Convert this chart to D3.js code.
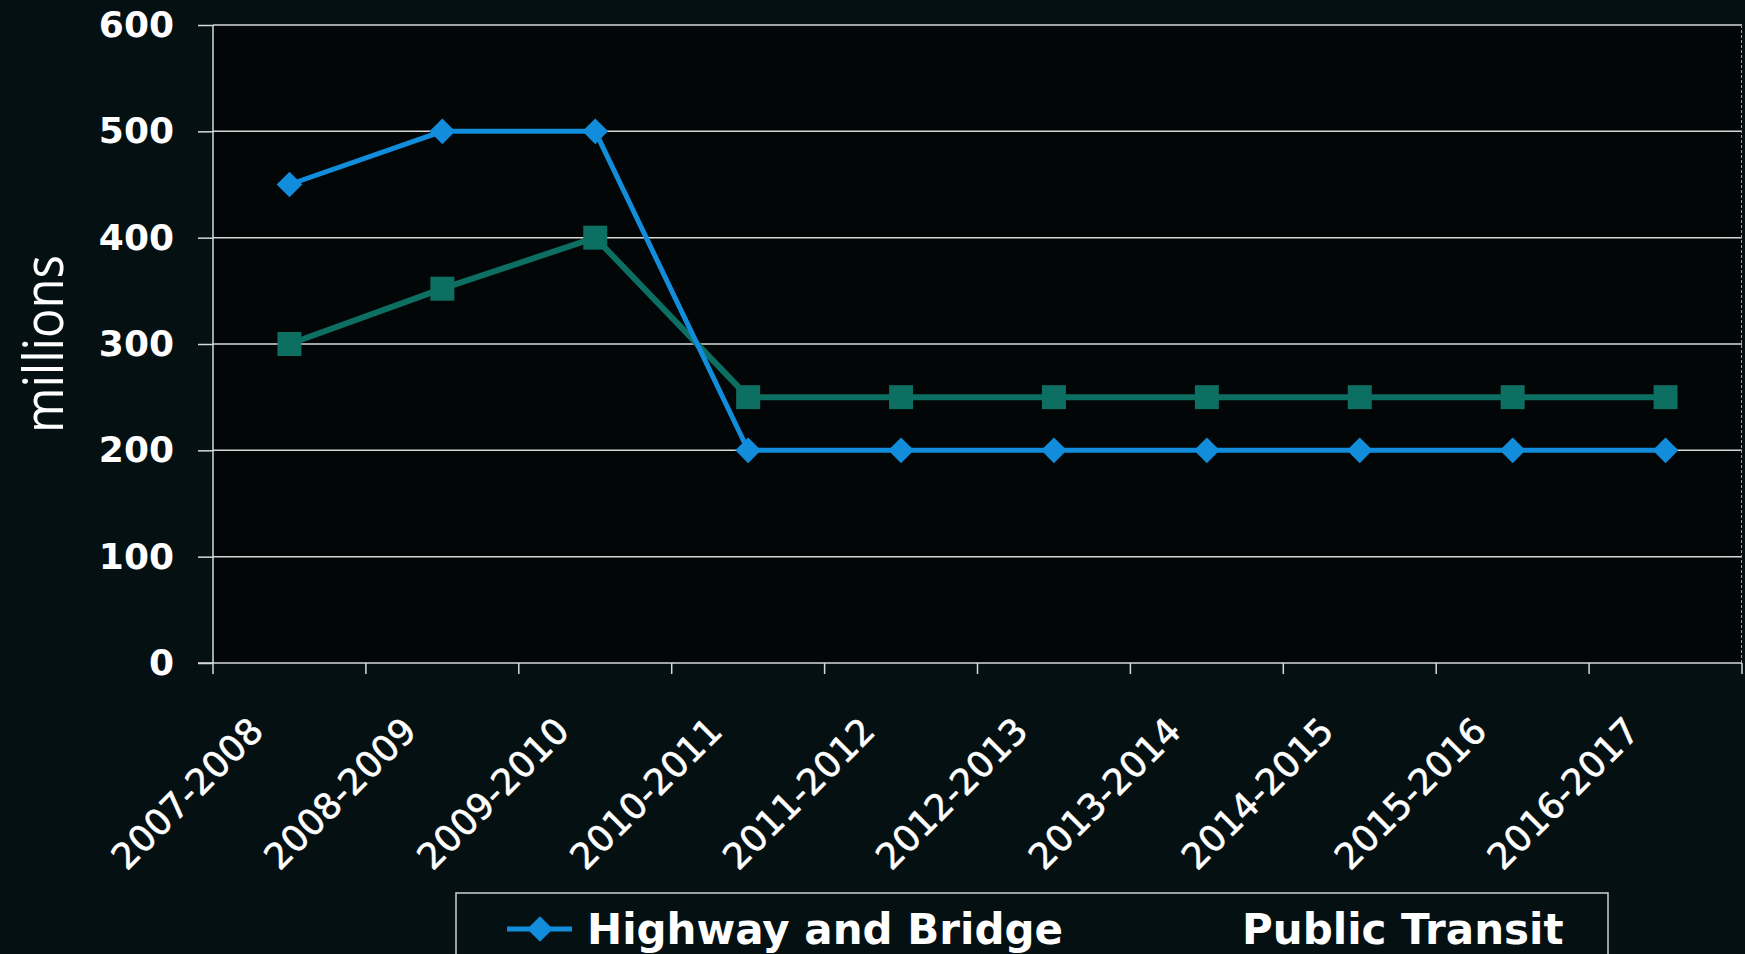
<!DOCTYPE html>
<html>
<head>
<meta charset="utf-8">
<script src="https://cdn.jsdelivr.net/npm/d3@7"></script>
<style>
  html, body { margin: 0; padding: 0; background: #041012; overflow: hidden; }
  svg { display: block; }
</style>
</head>
<body>
<div id="chart"></div>
<script>
const WIDTH = 1745;
const HEIGHT = 954;
const MARGIN = { top: 25, right: 3, bottom: 291, left: 213 };
const BLUE = "#118ddc";
const TEAL = "#0d6e62";
const GRID = "#d8d8d8";

// data
const years = ["2007-2008", "2008-2009", "2009-2010", "2010-2011", "2011-2012",
  "2012-2013", "2013-2014", "2014-2015", "2015-2016", "2016-2017"];
const highwayBridge = [450, 500, 500, 200, 200, 200, 200, 200, 200, 200];
const publicTransit = [300, 352, 400, 250, 250, 250, 250, 250, 250, 250];
const yTicks = [0, 100, 200, 300, 400, 500, 600];
const seriesNames = ["Highway and Bridge", "Public Transit"];

const innerW = WIDTH - MARGIN.left - MARGIN.right;
const innerH = HEIGHT - MARGIN.top - MARGIN.bottom;

// --------------- Step 1 ---------------
// svg container and plot area
const svg = d3
  .select("#chart")
  .append("svg")
  .attr("width", WIDTH)
  .attr("height", HEIGHT);

svg.append("rect")
  .attr("width", WIDTH)
  .attr("height", HEIGHT)
  .attr("fill", "#041012");

const g = svg.append("g")
  .attr("transform", `translate(${MARGIN.left},${MARGIN.top})`);

g.append("rect")
  .attr("width", innerW)
  .attr("height", innerH)
  .attr("fill", "#020606");

// --------------- Step 2 ---------------
// scales
const x = d3.scaleBand().domain(years).range([0, innerW]);
const y = d3.scaleLinear().domain([0, 600]).range([innerH, 0]);
const cx = d => x(d) + x.bandwidth() / 2;

// gridlines
g.append("g")
  .selectAll("line")
  .data(yTicks.filter(v => v > 0))
  .enter()
  .append("line")
  .attr("x1", 0)
  .attr("x2", innerW)
  .attr("y1", d => y(d))
  .attr("y2", d => y(d))
  .attr("stroke", GRID)
  .attr("stroke-width", 1.5);

// right border of plot
g.append("line")
  .attr("x1", innerW - 0.5)
  .attr("x2", innerW - 0.5)
  .attr("y1", 0)
  .attr("y2", innerH)
  .attr("stroke", "#9a9a9a")
  .attr("stroke-width", 1)
  .attr("stroke-dasharray", "3,2");

// --------------- Step 3 ---------------
// axes
const yAxis = g.append("g")
  .call(d3.axisLeft(y).tickValues(yTicks).tickSize(15).tickPadding(24));

const xAxis = g.append("g")
  .attr("transform", `translate(0,${innerH})`)
  .call(d3.axisBottom(x).tickSize(0).tickFormat(""));

[yAxis, xAxis].forEach(a => {
  a.select(".domain").attr("stroke", GRID).attr("stroke-width", 1.5);
  a.selectAll(".tick line").attr("stroke", GRID).attr("stroke-width", 1.5);
});
xAxis.select(".domain").attr("d", `M-15,0H${innerW}`);
yAxis.select(".domain").attr("d", `M0,${innerH + 11}V0`);

yAxis.selectAll(".tick text")
  .attr("fill", "#ffffff")
  .attr("font-family", "DejaVu Sans, Verdana, sans-serif")
  .attr("font-weight", "bold")
  .attr("font-size", 36);

// ticks between categories
g.append("g")
  .selectAll("line")
  .data(years)
  .enter()
  .append("line")
  .attr("x1", d => x(d) + x.bandwidth())
  .attr("x2", d => x(d) + x.bandwidth())
  .attr("y1", innerH)
  .attr("y2", innerH + 11)
  .attr("stroke", GRID)
  .attr("stroke-width", 1.5);

// rotated category labels
g.append("g")
  .selectAll("text")
  .data(years)
  .enter()
  .append("text")
  .attr("transform", d => `translate(${cx(d) - 24},${innerH + 70}) rotate(-45)`)
  .attr("text-anchor", "end")
  .attr("fill", "#ffffff")
  .attr("stroke", "#ffffff")
  .attr("stroke-width", 0.6)
  .attr("font-family", "DejaVu Sans, Verdana, sans-serif")
  .attr("font-size", 36)
  .text(d => d);

// y title
svg.append("text")
  .attr("transform", "translate(63,344) rotate(-90)")
  .attr("text-anchor", "middle")
  .attr("fill", "#ffffff")
  .attr("font-family", "Open Sans, sans-serif")
  .attr("font-size", 54)
  .attr("textLength", 178)
  .attr("lengthAdjust", "spacingAndGlyphs")
  .text("millions");

// --------------- Step 4 ---------------
// lines and markers
const line = d3.line()
  .x((d, i) => cx(years[i]))
  .y(d => y(d));

g.append("path")
  .datum(publicTransit)
  .attr("d", line)
  .attr("fill", "none")
  .attr("stroke", TEAL)
  .attr("stroke-width", 6);

g.append("g")
  .selectAll("rect")
  .data(publicTransit)
  .enter()
  .append("rect")
  .attr("x", (d, i) => cx(years[i]) - 12)
  .attr("y", d => y(d) - 12)
  .attr("width", 24)
  .attr("height", 24)
  .attr("fill", TEAL);

g.append("path")
  .datum(highwayBridge)
  .attr("d", line)
  .attr("fill", "none")
  .attr("stroke", BLUE)
  .attr("stroke-width", 5);

const diamond = d3.symbol().type(d3.symbolDiamond2).size(420);
g.append("g")
  .selectAll("path")
  .data(highwayBridge)
  .enter()
  .append("path")
  .attr("d", diamond)
  .attr("transform", (d, i) => `translate(${cx(years[i])},${y(d)})`)
  .attr("fill", BLUE);

// --------------- Step 5 ---------------
// legend box, runs off the bottom edge
const legend = svg.append("g");
legend.append("rect")
  .attr("x", 456)
  .attr("y", 893)
  .attr("width", 1152)
  .attr("height", 100)
  .attr("fill", "#041012")
  .attr("stroke", "#cfcfcf")
  .attr("stroke-width", 1.5);

legend.append("line")
  .attr("x1", 507).attr("x2", 572)
  .attr("y1", 929).attr("y2", 929)
  .attr("stroke", BLUE)
  .attr("stroke-width", 5);
legend.append("path")
  .attr("d", diamond)
  .attr("transform", "translate(540,929)")
  .attr("fill", BLUE);

const legendX = [587, 1242];
legend.selectAll("text")
  .data(seriesNames)
  .enter()
  .append("text")
  .attr("x", (d, i) => legendX[i])
  .attr("y", 944)
  .attr("fill", "#ffffff")
  .attr("font-family", "DejaVu Sans, Verdana, sans-serif")
  .attr("font-weight", "bold")
  .attr("font-size", 42)
  .text(d => d);
</script>
</body>
</html>
